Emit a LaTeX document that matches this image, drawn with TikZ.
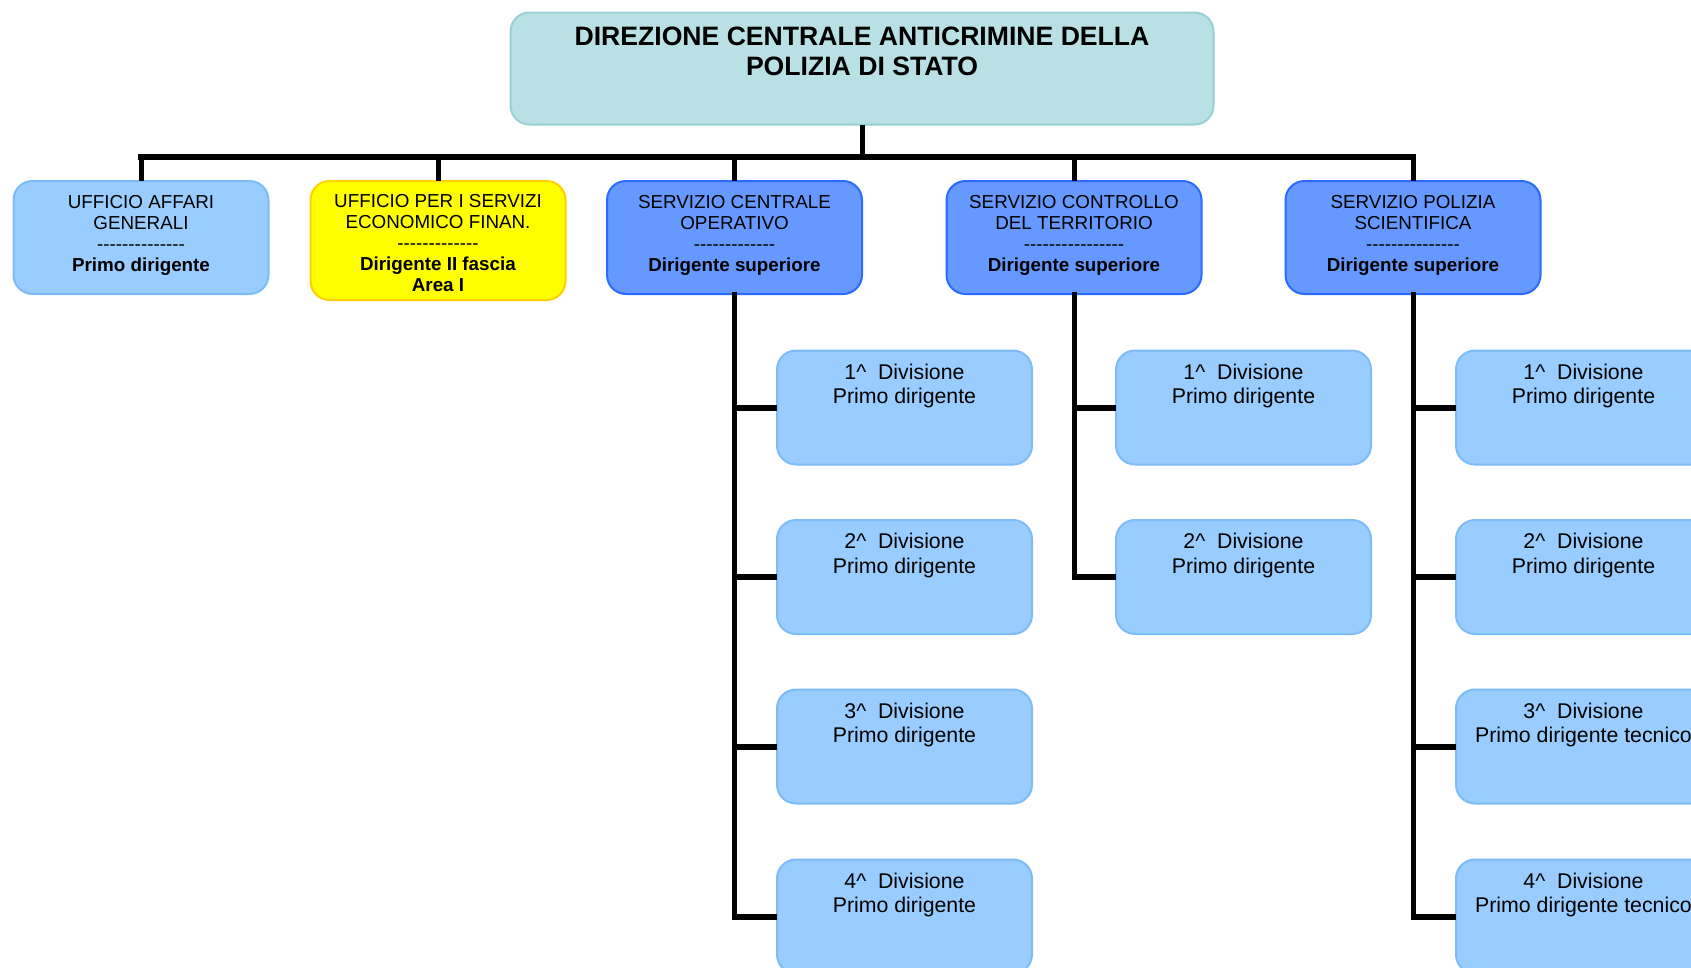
\documentclass[tikz,border=0pt]{standalone}
\usepackage{fontspec}
\setmainfont{Liberation Sans}
\definecolor{topfill}{HTML}{B9E0E4}
\definecolor{topline}{HTML}{98D0D6}
\definecolor{lightfill}{HTML}{99CCFF}
\definecolor{lightline}{HTML}{7DBCF8}
\definecolor{yelfill}{HTML}{FFFF00}
\definecolor{yelline}{HTML}{FFD000}
\definecolor{bluefill}{HTML}{6699FF}
\definecolor{blueline}{HTML}{2B6BFF}
\newcommand\dashrow[1]{\foreach \i in {1,...,#1}{-}}
\newcommand\caretsym{\textasciicircum}
\begin{document}
\begin{tikzpicture}[x=1pt,y=-1pt,
  every node/.style={inner sep=0pt,outer sep=0pt},
  orgbox/.style={rounded corners=19pt, line width=2pt, minimum width=255pt, minimum height=113pt},
  topbox/.style={orgbox, fill=topfill, draw=topline, minimum width=703pt, minimum height=112pt},
  lightbox/.style={orgbox, fill=lightfill, draw=lightline},
  yelbox/.style={orgbox, fill=yelfill, draw=yelline, minimum height=119pt},
  bluebox/.style={orgbox, fill=bluefill, draw=blueline},
  divbox/.style={orgbox, fill=lightfill, draw=lightline, minimum height=114pt},
  titletxt/.style={anchor=north, align=center, font=\fontsize{26.6}{30.7}\selectfont\bfseries},
  sectxt/.style={anchor=north, align=center, font=\fontsize{18.8}{21}\selectfont},
  divtxt/.style={anchor=north, align=center, font=\fontsize{21.3}{24.5}\selectfont},
  wire/.style={line width=5pt, black},
  busline/.style={line width=6pt, black, line cap=rect},
  spine/.style={line width=5pt, black, line cap=rect},
  arm/.style={line width=6pt, black}
]
\useasboundingbox (0,0) rectangle (1691,967);
\fill[white] (0,0) rectangle (1691,967);
\clip (0,0) rectangle (1691,967);

% top box
\node[topbox] (top) at (862,68.5) {};
\node[titletxt] (ttop) at ([yshift=-14pt]top.north) {DIREZIONE CENTRALE ANTICRIMINE DELLA\\POLIZIA DI STATO};

% second level
\node[lightbox] (b1) at (141,237.5) {};
\node[yelbox] (b2) at (438,240.5) {};
\node[bluebox] (b3) at (734.5,237.5) {};
\node[bluebox] (b4) at (1074,237.5) {};
\node[bluebox] (b5) at (1413,237.5) {};

\node[sectxt] (t1) at ([yshift=-14pt]b1.north) {UFFICIO AFFARI\\GENERALI\\\dashrow{14}\\\textbf{Primo dirigente}};
\node[sectxt] (t2) at ([yshift=-13pt]b2.north) {UFFICIO PER I SERVIZI\\ECONOMICO FINAN.\\\dashrow{13}\\\textbf{Dirigente II fascia}\\\textbf{Area I}};
\node[sectxt] (t3) at ([yshift=-14pt]b3.north) {SERVIZIO CENTRALE\\OPERATIVO\\\dashrow{13}\\\textbf{Dirigente superiore}};
\node[sectxt] (t4) at ([yshift=-14pt]b4.north) {SERVIZIO CONTROLLO\\DEL TERRITORIO\\\dashrow{16}\\\textbf{Dirigente superiore}};
\node[sectxt] (t5) at ([yshift=-14pt]b5.north) {SERVIZIO POLIZIA\\SCIENTIFICA\\\dashrow{15}\\\textbf{Dirigente superiore}};

% third level
\foreach \k/\yy in {1/407.5,2/577,3/746.5,4/916.5}{
  \node[divbox] (c3\k) at (904.5,\yy) {};
  \node[divtxt] (d3\k) at ([yshift=-13.5pt]c3\k.north) {\k\caretsym\ \ Divisione\\Primo dirigente};
}
\foreach \k/\yy in {1/407.5,2/577}{
  \node[divbox] (c4\k) at (1243.5,\yy) {};
  \node[divtxt] (d4\k) at ([yshift=-13.5pt]c4\k.north) {\k\caretsym\ \ Divisione\\Primo dirigente};
}
\foreach \k/\yy in {1/407.5,2/577}{
  \node[divbox] (c5\k) at (1583.5,\yy) {};
  \node[divtxt] (d5\k) at ([yshift=-13.5pt]c5\k.north) {\k\caretsym\ \ Divisione\\Primo dirigente};
}
\foreach \k/\yy in {3/746.5,4/916.5}{
  \node[divbox] (c5\k) at (1583.5,\yy) {};
  \node[divtxt] (d5\k) at ([yshift=-13.5pt]c5\k.north) {\k\caretsym\ \ Divisione\\Primo dirigente tecnico};
}

% connectors
\path (top.south) ++(0,32) coordinate (hub);
\draw[wire] (top.south) -- (hub);
\draw[busline] (b1.north |- hub) -- (b5.north |- hub);
\foreach \n in {b1,b2,b3,b4,b5}{
  \draw[wire] (\n.north |- hub) -- (\n.north);
}
\draw[spine] (b3.south) -- (b3.south |- c34.west);
\draw[spine] (b4.south) -- (b4.south |- c42.west);
\draw[spine] (b5.south) -- (b5.south |- c54.west);
\foreach \k in {1,2,3,4}{
  \draw[arm] ([xshift=-2.5pt]b3.south |- c3\k.west) -- (c3\k.west);
}
\foreach \k in {1,2}{
  \draw[arm] ([xshift=-2.5pt]b4.south |- c4\k.west) -- (c4\k.west);
}
\foreach \k in {1,2,3,4}{
  \draw[arm] ([xshift=-2.5pt]b5.south |- c5\k.west) -- (c5\k.west);
}
\end{tikzpicture}
\end{document}
